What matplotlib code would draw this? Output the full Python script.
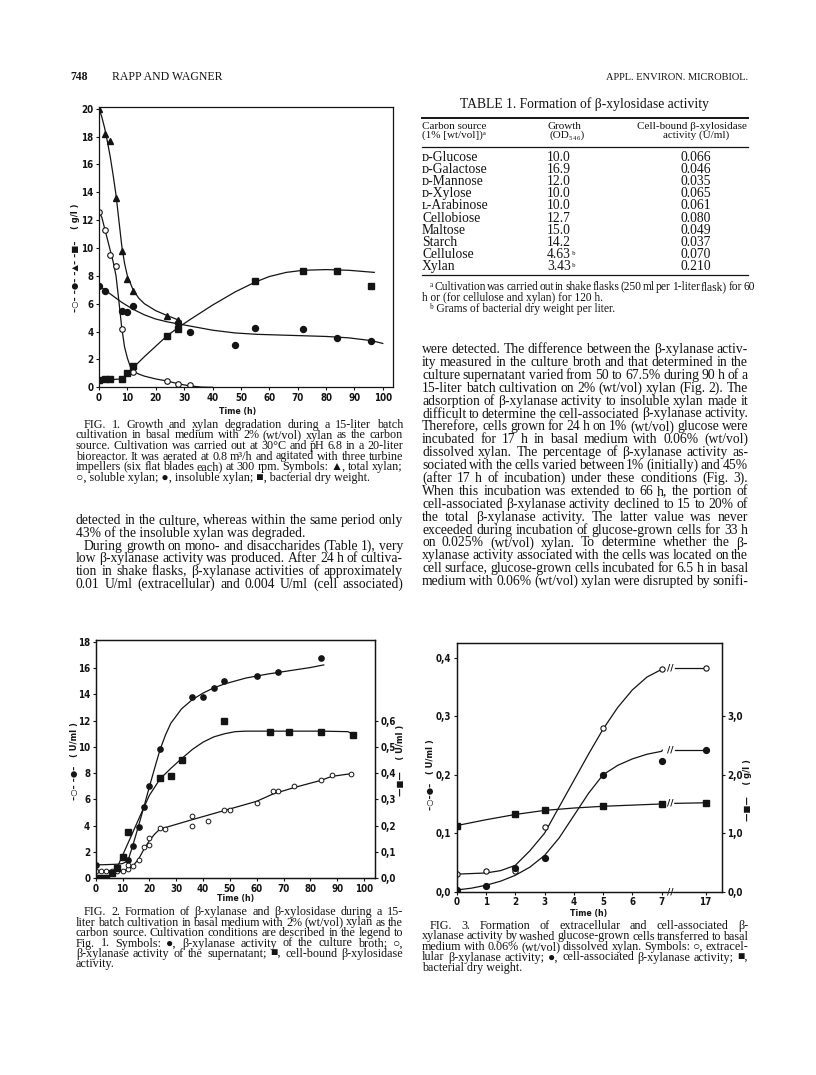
import matplotlib
matplotlib.use("Agg")
import matplotlib.pyplot as plt
from matplotlib.font_manager import FontProperties
from matplotlib.lines import Line2D

# ---- Fig. 1 data (time in h, g/l) ----
f1_t_total = [0, 2, 4, 6, 8, 10, 12, 24, 28]
f1_total = [20.0, 18.2, 17.7, 13.6, 9.8, 7.8, 6.9, 5.1, 4.8]
f1_t_sol = [0, 2, 4, 6, 8, 12, 24, 28, 32]
f1_sol = [12.6, 11.3, 9.5, 8.7, 4.2, 1.1, 0.45, 0.25, 0.15]
f1_t_insol = [0, 2, 8, 10, 12, 28, 32, 48, 55, 72, 84, 96]
f1_insol = [7.3, 6.9, 5.5, 5.4, 5.85, 4.6, 4.0, 3.05, 4.25, 4.15, 3.55, 3.35]
f1_t_dry = [0, 2, 4, 8, 10, 12, 24, 28, 55, 72, 84, 96]
f1_dry = [0.5, 0.6, 0.6, 0.6, 1.0, 1.5, 3.7, 4.2, 7.6, 8.35, 8.35, 7.25]
# hand-drawn fit curves
c1_t_total = [0, 1, 2, 3, 4, 5, 6, 7, 8, 9, 10, 12, 14, 16, 20, 24, 29]
c1_total = [20.0, 19.4, 18.6, 17.6, 16.5, 15.2, 13.8, 12.0, 10.2, 8.9, 8.0, 7.0, 6.4, 6.0, 5.5, 5.15, 4.75]
c1_t_sol = [0, 1, 2, 3, 4, 5, 6, 7, 8, 9, 10, 11, 12, 14, 16, 20, 24, 28, 32, 36, 40]
c1_sol = [12.6, 12.2, 11.4, 10.6, 9.8, 9.0, 8.0, 6.2, 4.3, 2.9, 2.1, 1.5, 1.15, 0.95, 0.8, 0.6, 0.45, 0.25, 0.1, 0.02, 0.0]
c1_t_insol = [0, 4, 8, 12, 16, 20, 24, 28, 32, 40, 48, 56, 64, 72, 80, 88, 96, 100]
c1_insol = [7.3, 6.7, 6.1, 5.6, 5.2, 4.9, 4.7, 4.55, 4.4, 4.1, 3.9, 3.8, 3.75, 3.7, 3.65, 3.55, 3.35, 3.15]
c1_t_dry = [0, 4, 8, 10, 12, 16, 20, 24, 28, 32, 40, 48, 55, 60, 66, 72, 80, 88, 97]
c1_dry = [0.5, 0.55, 0.6, 0.85, 1.4, 2.2, 2.95, 3.7, 4.3, 4.85, 5.9, 6.85, 7.55, 7.95, 8.25, 8.4, 8.45, 8.4, 8.25]

# ---- Fig. 2 data (U/ml) ----
f2_t_broth = [0, 12, 14, 16, 18, 20, 24, 36, 40, 44, 48, 60, 68, 84]
f2_broth = [1.0, 1.35, 2.45, 3.9, 5.45, 7.0, 9.8, 13.8, 13.8, 14.5, 15.0, 15.4, 15.7, 16.8]
f2_t_sup = [0, 2, 4, 6, 8, 10, 12, 12, 14, 16, 18, 20, 20, 24, 26, 36, 36, 42, 48, 50, 60, 66, 68, 74, 84, 88, 95]
f2_sup = [0.5, 0.5, 0.5, 0.5, 0.55, 0.55, 0.65, 1.0, 0.95, 1.4, 2.35, 2.55, 3.05, 3.8, 3.7, 4.7, 3.95, 4.35,
          5.2, 5.15, 5.7, 6.6, 6.6, 7.05, 7.5, 7.85, 7.95]
f2_t_xyl = [0, 2, 4, 6, 8, 10, 12, 24, 28, 32, 48, 65, 72, 84, 96]
f2_xyl = [0, 0, 0, 0.02, 0.04, 0.08, 0.175, 0.38, 0.39, 0.45, 0.60, 0.555, 0.555, 0.555, 0.545]
c2_t_broth = [0, 4, 8, 10, 12, 14, 16, 18, 20, 22, 24, 26, 28, 32, 36, 40, 44, 48, 56, 64, 72, 80, 85]
c2_broth = [1.0, 1.02, 1.05, 1.1, 1.3, 2.6, 4.0, 5.45, 6.95, 8.4, 9.8, 10.9, 11.8, 12.9, 13.6, 14.1, 14.5,
            14.8, 15.25, 15.55, 15.8, 16.05, 16.25]
c2_t_sup = [0, 10, 12, 14, 16, 18, 20, 22, 24, 26, 36, 48, 60, 66, 74, 84, 88, 95]
c2_sup = [0.5, 0.55, 0.65, 0.95, 1.45, 2.2, 2.85, 3.35, 3.75, 3.85, 4.45, 5.15, 5.85, 6.4, 6.9, 7.45, 7.75, 7.95]
c2_t_xyl = [6, 8, 18, 20, 24, 28, 32, 36, 40, 44, 48, 52, 56, 64, 72, 84, 94, 96]
c2_xyl = [0.018, 0.04, 0.27, 0.315, 0.378, 0.418, 0.455, 0.49, 0.518, 0.538, 0.55, 0.558, 0.56, 0.56, 0.56,
          0.56, 0.558, 0.548]

# ---- Fig. 3 data ----
f3_t = [0, 1, 2, 3, 5, 7, 17]
f3_extra = [0.03, 0.035, 0.035, 0.11, 0.28, 0.38, 0.383]
f3_cell = [0.003, 0.01, 0.04, 0.057, 0.2, 0.224, 0.243]
f3_t_dry = [0, 2, 3, 5, 7, 17]
f3_dry = [1.13, 1.32, 1.39, 1.46, 1.5, 1.52]
c3_t_a = [0, 1, 1.5, 2, 2.5, 3, 3.5, 4, 4.5, 5, 5.5, 6, 6.5, 7, 7.15]
c3_extra_a = [0.03, 0.032, 0.036, 0.045, 0.07, 0.1, 0.145, 0.19, 0.235, 0.278, 0.315, 0.345, 0.367, 0.38, 0.382]
c3_t_cell = [0, 0.5, 1, 1.5, 2, 2.5, 3, 3.5, 4, 4.5, 5, 5.5, 6, 6.5, 7, 7.15]
c3_cell_a = [0.003, 0.006, 0.011, 0.018, 0.028, 0.042, 0.062, 0.092, 0.13, 0.168, 0.2, 0.216, 0.227, 0.235,
             0.24, 0.242]
c3_t_dry = [0, 1, 2, 3, 4, 5, 6, 7, 7.15]
c3_dry_a = [1.13, 1.23, 1.32, 1.39, 1.43, 1.46, 1.48, 1.5, 1.5]
c3_t_b = [10, 17]
c3_extra_b = [0.383, 0.383]
c3_cell_b = [0.243, 0.243]
c3_dry_b = [1.51, 1.52]
f3_ticks = [0, 1, 2, 3, 4, 5, 6, 7, 17]

# ---- Table 1 ----
carbon = ['ᴅ-Glucose', 'ᴅ-Galactose', 'ᴅ-Mannose', 'ᴅ-Xylose', 'ʟ-Arabinose', 'Cellobiose', 'Maltose',
          'Starch', 'Cellulose', 'Xylan']
growth = ['10.0', '16.9', '12.0', '10.0', '10.0', '12.7', '15.0', '14.2', '4.63', '3.43']
growth_note = ['', '', '', '', '', '', '', '', 'ᵇ', 'ᵇ']
xylosidase = ['0.066', '0.046', '0.035', '0.065', '0.061', '0.080', '0.049', '0.037', '0.070', '0.210']

body_left = [
    "detected in the culture, whereas within the same period only",
    "43% of the insoluble xylan was degraded.\n",
    "\tDuring growth on mono- and disaccharides (Table 1), very",
    "low β-xylanase activity was produced. After 24 h of cultiva-",
    "tion in shake flasks, β-xylanase activities of approximately",
    "0.01 U/ml (extracellular) and 0.004 U/ml (cell associated)",
]
body_right = [
    "were detected. The difference between the β-xylanase activ-",
    "ity measured in the culture broth and that determined in the",
    "culture supernatant varied from 50 to 67.5% during 90 h of a",
    "15-liter batch cultivation on 2% (wt/vol) xylan (Fig. 2). The",
    "adsorption of β-xylanase activity to insoluble xylan made it",
    "difficult to determine the cell-associated β-xylanase activity.",
    "Therefore, cells grown for 24 h on 1% (wt/vol) glucose were",
    "incubated for 17 h in basal medium with 0.06% (wt/vol)",
    "dissolved xylan. The percentage of β-xylanase activity as-",
    "sociated with the cells varied between 1% (initially) and 45%",
    "(after 17 h of incubation) under these conditions (Fig. 3).",
    "When this incubation was extended to 66 h, the portion of",
    "cell-associated β-xylanase activity declined to 15 to 20% of",
    "the total β-xylanase activity. The latter value was never",
    "exceeded during incubation of glucose-grown cells for 33 h",
    "on 0.025% (wt/vol) xylan. To determine whether the β-",
    "xylanase activity associated with the cells was located on the",
    "cell surface, glucose-grown cells incubated for 6.5 h in basal",
    "medium with 0.06% (wt/vol) xylan were disrupted by sonifi-",
]
cap1 = [
    "\tFIG. 1. Growth and xylan degradation during a 15-liter batch",
    "cultivation in basal medium with 2% (wt/vol) xylan as the carbon",
    "source. Cultivation was carried out at 30°C and pH 6.8 in a 20-liter",
    "bioreactor. It was aerated at 0.8 m³/h and agitated with three turbine",
    "impellers (six flat blades each) at 300 rpm. Symbols: ▲, total xylan;",
    "○, soluble xylan; ●, insoluble xylan; ■, bacterial dry weight.\n",
]
cap2 = [
    "\tFIG. 2. Formation of β-xylanase and β-xylosidase during a 15-",
    "liter batch cultivation in basal medium with 2% (wt/vol) xylan as the",
    "carbon source. Cultivation conditions are described in the legend to",
    "Fig. 1. Symbols: ●, β-xylanase activity of the culture broth; ○,",
    "β-xylanase activity of the supernatant; ■, cell-bound β-xylosidase",
    "activity.\n",
]
cap3 = [
    "\tFIG. 3. Formation of extracellular and cell-associated β-",
    "xylanase activity by washed glucose-grown cells transferred to basal",
    "medium with 0.06% (wt/vol) dissolved xylan. Symbols: ○, extracel-",
    "lular β-xylanase activity; ●, cell-associated β-xylanase activity; ■,",
    "bacterial dry weight.\n",
]
foot = [
    "\tᵃ Cultivation was carried out in shake flasks (250 ml per 1-liter flask) for 60",
    "h or (for cellulose and xylan) for 120 h.\n",
    "\tᵇ Grams of bacterial dry weight per liter.\n",
]

W, H = 816, 1075
INK = '#141414'
SERIF = ['Liberation Serif', 'DejaVu Sans']
TICKFP = FontProperties(family='DejaVu Sans', stretch='condensed', weight='bold', size=7)
TIMEFP = FontProperties(family='DejaVu Sans', stretch='condensed', weight='bold', size=6.3)

fig = plt.figure(figsize=(W / 100, H / 100), dpi=100)
fig.patch.set_facecolor('white')
renderer = fig.canvas.get_renderer()


def ax_at(left, top, right, bottom):
    return fig.add_axes([left / W, 1 - bottom / H, (right - left) / W, (bottom - top) / H])


def style(ax):
    for s in ax.spines.values():
        s.set_linewidth(0.9)
        s.set_color(INK)
    ax.tick_params(direction='out', length=2.5, width=0.8, pad=1.5, colors=INK)
    for lab in ax.get_xticklabels() + ax.get_yticklabels():
        lab.set_fontproperties(TICKFP)


def ftext(x, y, s, **kw):
    return fig.text(x / W, 1 - y / H, s, color=INK, **kw)


def hrule(x0, x1, y, lw):
    fig.add_artist(Line2D([x0 / W, x1 / W], [1 - y / H, 1 - y / H], lw=lw, color=INK))


def width(s, fp):
    return renderer.get_text_width_height_descent(s, fp, ismath=False)[0]


def fit_size(lines, colw, indent, size0=9.0, slack=1.02):
    # font size at which the widest justified line just fills the column
    fp = FontProperties(family=SERIF, size=size0)
    m = max(width(l.strip(), fp) + (indent if l.startswith('\t') else 0)
            for l in lines if not l.endswith('\n'))
    return size0 * colw * slack / m


def block(lines, x0, x1, y0, dy, size, indent=8):
    fp = FontProperties(family=SERIF, size=size)
    for i, line in enumerate(lines):
        y = y0 + i * dy
        xs = x0 + (indent if line.startswith('\t') else 0)
        last = line.endswith('\n')
        words = line.strip().split(' ')
        if last or len(words) == 1:
            ftext(xs, y, ' '.join(words), fontproperties=fp, va='baseline')
            continue
        ws = [width(w_, fp) for w_ in words]
        gap = max((x1 - xs - sum(ws)) / (len(words) - 1), 1.2)
        x = xs
        for w_, ww in zip(words, ws):
            ftext(x, y, w_, fontproperties=fp, va='baseline')
            x += ww + gap


def sym_label(x, y, s, size=6.0):
    ftext(x, y, s, rotation=90, ha='center', va='center', fontsize=size,
          family=['DejaVu Sans'], fontweight='bold')


# ---------------- page header ----------------
ftext(70, 80, '748', fontproperties=FontProperties(family=SERIF, size=8.5, weight='bold'), va='baseline')
ftext(112, 80, 'RAPP AND WAGNER', fontproperties=FontProperties(family=SERIF, size=8.5), va='baseline')
ftext(748, 80, 'APPL. ENVIRON. MICROBIOL.', fontproperties=FontProperties(family=SERIF, size=7.5),
      va='baseline', ha='right')

# ---------------- Fig. 1 ----------------
ax1 = ax_at(99, 107.3, 393, 387.3)
ax1.plot(c1_t_total, c1_total, color=INK, lw=0.9)
ax1.plot(c1_t_sol, c1_sol, color=INK, lw=0.9)
ax1.plot(c1_t_insol, c1_insol, color=INK, lw=0.9)
ax1.plot(c1_t_dry, c1_dry, color=INK, lw=0.9)
ax1.plot(f1_t_total, f1_total, '^', color=INK, ms=4)
ax1.plot(f1_t_sol, f1_sol, 'o', mfc='white', mec=INK, mew=0.8, ms=4)
ax1.plot(f1_t_insol, f1_insol, 'o', color=INK, ms=4.3)
ax1.plot(f1_t_dry, f1_dry, 's', color=INK, ms=4.3)
ax1.set_xlim(0, 103.6)
ax1.set_ylim(0, 20.1)
ax1.set_xticks(range(0, 101, 10))
ax1.set_yticks(range(0, 21, 2))
style(ax1)
ftext(238, 414, 'Time (h)', ha='center', va='baseline', fontproperties=TIMEFP)
sym_label(76, 258, '–○– –●– –▲– –■–    ( g/l )')

cap_size = fit_size(cap1 + cap2 + cap3, 327, 8)
block(cap1, 76, 403, 428, 10.5, cap_size)

body_size = fit_size(body_left + body_right, 327, 8)
block(body_left, 76, 403, 524, 12.8, body_size)
block(body_right, 422, 748, 353, 12.9, body_size)

# ---------------- Table 1 ----------------
tfp = FontProperties(family=SERIF, size=body_size)
hfp = FontProperties(family=SERIF, size=body_size * 0.82)
ftext(585, 108, 'TABLE 1. Formation of β-xylosidase activity', fontproperties=tfp, ha='center', va='baseline')
hrule(422, 748, 117.8, 1.4)
ftext(422, 129, 'Carbon source', fontproperties=hfp, va='baseline')
ftext(422, 138, '(1% [wt/vol])ᵃ', fontproperties=hfp, va='baseline')
ftext(548, 129, 'Growth', fontproperties=hfp, va='baseline')
ftext(549, 138, '(OD₅₄₆)', fontproperties=hfp, va='baseline')
ftext(692, 129, 'Cell-bound β-xylosidase', fontproperties=hfp, va='baseline', ha='center')
ftext(696, 138, 'activity (U/ml)', fontproperties=hfp, va='baseline', ha='center')
hrule(422, 748, 147.3, 0.9)
for i, name in enumerate(carbon):
    y = 161 + i * 12.1
    ftext(422, y, name, fontproperties=tfp, va='baseline')
    ftext(571, y, growth[i], fontproperties=tfp, va='baseline', ha='right')
    if growth_note[i]:
        ftext(571.5, y, growth_note[i], fontproperties=hfp, va='baseline')
    ftext(696, y, xylosidase[i], fontproperties=tfp, va='baseline', ha='center')
hrule(422, 748, 275, 0.9)
block(foot, 422, 748, 290, 11, body_size * 0.85)

# ---------------- Fig. 2 ----------------
ax2 = ax_at(95.7, 640, 375, 878)
ax2.plot(c2_t_broth, c2_broth, color=INK, lw=0.9)
ax2.plot(c2_t_sup, c2_sup, color=INK, lw=0.9)
ax2.plot(f2_t_broth, f2_broth, 'o', color=INK, ms=3.8)
ax2.plot(f2_t_sup, f2_sup, 'o', mfc='white', mec=INK, mew=0.7, ms=3.4)
ax2.set_xlim(0, 104.1)
ax2.set_ylim(0, 18.15)
ax2.set_xticks(range(0, 101, 10))
ax2.set_yticks(range(0, 19, 2))
ax2r = ax2.twinx()
ax2r.plot(c2_t_xyl, c2_xyl, color=INK, lw=0.9)
ax2r.plot(f2_t_xyl, f2_xyl, 's', color=INK, ms=4.2)
ax2r.set_ylim(0, 18.15 / 20)
ax2r.set_yticks([0, 0.1, 0.2, 0.3, 0.4, 0.5, 0.6])
ax2r.set_yticklabels(['0,0', '0,1', '0,2', '0,3', '0,4', '0,5', '0,6'])
style(ax2)
style(ax2r)
ftext(236, 901, 'Time (h)', ha='center', va='baseline', fontproperties=TIMEFP)
sym_label(74, 761, '–○– –●–   ( U/ml )')
sym_label(400, 760, '—■—    ( U/ml )')
block(cap2, 76, 403, 915, 10.5, cap_size)

# ---------------- Fig. 3 ----------------


def brk(t):
    # broken time axis: 7 h .. 17 h squeezed into 1.5 units
    return [v if v <= 7 else 7 + (v - 7) * 0.15 for v in t]


ax3 = ax_at(456.7, 643.3, 721.7, 891.7)
ax3.plot(brk(c3_t_a), c3_extra_a, color=INK, lw=0.9)
ax3.plot(brk(c3_t_b), c3_extra_b, color=INK, lw=0.9)
ax3.plot(brk(c3_t_cell), c3_cell_a, color=INK, lw=0.9)
ax3.plot(brk(c3_t_b), c3_cell_b, color=INK, lw=0.9)
ax3.plot(brk(f3_t), f3_extra, 'o', mfc='white', mec=INK, mew=0.8, ms=3.8)
ax3.plot(brk(f3_t), f3_cell, 'o', color=INK, ms=4.2)
ax3.set_xlim(0, 9.05)
ax3.set_ylim(0, 0.4246)
ax3.set_xticks(brk(f3_ticks))
ax3.set_xticklabels([str(v) for v in f3_ticks])
ax3.set_yticks([0, 0.1, 0.2, 0.3, 0.4])
ax3.set_yticklabels(['0,0', '0,1', '0,2', '0,3', '0,4'])
ax3r = ax3.twinx()
ax3r.plot(brk(c3_t_dry), c3_dry_a, color=INK, lw=0.9)
ax3r.plot(brk(c3_t_b), c3_dry_b, color=INK, lw=0.9)
ax3r.plot(brk(f3_t_dry), f3_dry, 's', color=INK, ms=3.8)
ax3r.set_ylim(0, 4.246)
ax3r.set_yticks([0, 1, 2, 3])
ax3r.set_yticklabels(['0,0', '1,0', '2,0', '3,0'])
style(ax3)
style(ax3r)
for yv in [0, c3_extra_b[0], c3_cell_b[0]]:
    ax3.text(7.3, yv, '//', ha='center', va='center', fontsize=6.5, color=INK, fontweight='bold',
             bbox=dict(boxstyle='square,pad=0.05', fc='white', ec='none'), clip_on=False)
ax3r.text(7.3, c3_dry_b[0], '//', ha='center', va='center', fontsize=6.5, color=INK, fontweight='bold',
          bbox=dict(boxstyle='square,pad=0.05', fc='white', ec='none'))
ftext(589, 916, 'Time (h)', ha='center', va='baseline', fontproperties=TIMEFP)
sym_label(431, 775, '–○–●–   ( U/ml )')
sym_label(748, 790, '—■—    ( g/l )')
block(cap3, 422, 748, 929, 10.5, cap_size)

fig.savefig('out.png', dpi=100, facecolor='white')
